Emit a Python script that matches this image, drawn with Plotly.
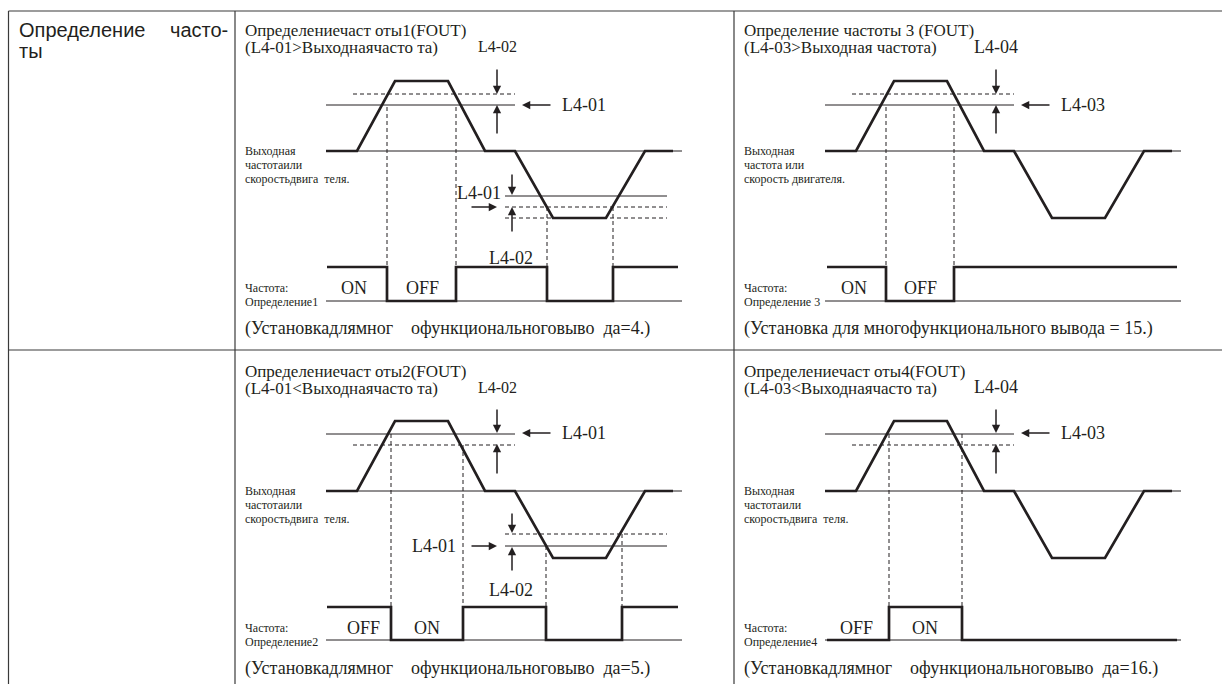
import plotly.graph_objects as go

W, H = 1222, 684
INK = "#231f20"
SERIF = "Liberation Serif, Times New Roman, serif"
SANS = "Liberation Sans, Arial, sans-serif"

# ---------------- data (local panel units) ----------------
# output frequency / motor speed profile (same in all four diagrams)
speed_t = [91, 122, 160, 213, 250, 280, 318, 371, 410, 438]
speed_v = [141, 141, 71, 71, 141, 141, 208, 208, 141, 141]

# frequency detection outputs (high = 257, low = 291)
det1_t = [92, 152, 152, 221, 221, 312, 312, 378, 378, 443]
det1_v = [257, 257, 291, 291, 257, 257, 291, 291, 257, 257]
det2_t = [92, 156, 156, 228, 228, 311, 311, 387, 387, 443]
det2_v = [257, 257, 290, 290, 257, 257, 290, 290, 257, 257]
det3_t = [93, 152, 152, 220, 220, 443]
det3_v = [257, 257, 291, 291, 257, 257]
det4_t = [93, 155, 155, 228, 228, 443]
det4_v = [290, 290, 257, 257, 290, 290]

titles = [
    "Определениечаст оты1(FOUT)",
    "Определениечаст оты2(FOUT)",
    "Определение частоты 3 (FOUT)",
    "Определениечаст оты4(FOUT)",
]
conditions = [
    "(L4-01&gt;Выходнаячасто та)",
    "(L4-01&lt;Выходнаячасто та)",
    "(L4-03&gt;Выходная частота)",
    "(L4-03&lt;Выходнаячасто та)",
]
band_labels = ["L4-02", "L4-02", "L4-04", "L4-04"]
level_labels = ["L4-01", "L4-01", "L4-03", "L4-03"]
speed_labels = [
    ["Выходная", "частотаили", "скоростьдвига\u00a0 теля."],
    ["Выходная", "частотаили", "скоростьдвига\u00a0 теля."],
    ["Выходная", "частота или", "скорость двигателя."],
    ["Выходная", "частотаили", "скоростьдвига\u00a0 теля."],
]
det_labels = ["Определение1", "Определение2", "Определение 3", "Определение4"]
captions = [
    "(Установкадлямног\u00a0\u00a0\u00a0 офункциональноговыво\u00a0 да=4.)",
    "(Установкадлямног\u00a0\u00a0\u00a0 офункциональноговыво\u00a0 да=5.)",
    "(Установка для многофункционального вывода = 15.)",
    "(Установкадлямног\u00a0\u00a0\u00a0 офункциональноговыво\u00a0 да=16.)",
]
state_labels = [("ON", "OFF"), ("OFF", "ON"), ("ON", "OFF"), ("OFF", "ON")]
state_x = [(119, 187), (128, 192), (120, 186), (122, 191)]
det_t = [det1_t, det2_t, det3_t, det4_t]
det_v = [det1_v, det2_v, det3_v, det4_v]
header_text = ["Определение", "часто-", "ты"]

# ---------------- layout of panels ----------------
# panel boxes in pixels: (left, top, width, height)
boxes = [(235, 10, 499, 340), (235, 350, 499, 334), (734, 10, 488, 340), (734, 350, 488, 334)]

fig = go.Figure()
layout = dict(width=W, height=H, margin=dict(l=0, r=0, t=0, b=0),
              paper_bgcolor="white", plot_bgcolor="rgba(0,0,0,0)",
              showlegend=False)
annotations = []
shapes = []

def ax_names(i):
    s = "" if i == 0 else str(i + 1)
    return "x" + s, "y" + s, "xaxis" + s, "yaxis" + s

for i, (l, t, w, h) in enumerate(boxes):
    xr, yr, xk, yk = ax_names(i)
    layout[xk] = dict(domain=[l / W, (l + w) / W], range=[0, w], visible=False,
                      anchor=yr, fixedrange=True)
    layout[yk] = dict(domain=[1 - (t + h) / H, 1 - t / H], range=[h, 0], visible=False,
                      anchor=xr, fixedrange=True)

def line(i, xs, ys, width=1.0, dash=None, color=INK):
    xr, yr, _, _ = ax_names(i)
    fig.add_trace(go.Scatter(x=xs, y=ys, mode="lines", xaxis=xr, yaxis=yr,
                             line=dict(color=color, width=width, dash=dash),
                             hoverinfo="skip"))

def text(i, x, y, s, size=16, anchor="left", font=SERIF):
    xr, yr, _, _ = ax_names(i)
    annotations.append(dict(x=x, y=y, xref=xr, yref=yr, text=s, showarrow=False,
                            xanchor=anchor, yanchor="middle",
                            font=dict(family=font, size=size, color=INK)))

def arrow(i, x0, y0, x1, y1):
    xr, yr, _, _ = ax_names(i)
    annotations.append(dict(x=x1, y=y1, ax=x0, ay=y0, xref=xr, yref=yr, axref=xr, ayref=yr,
                            text="", showarrow=True, arrowhead=2, arrowsize=1.1,
                            arrowwidth=1.5, arrowcolor=INK, standoff=0))

DASH = "4px,3px"
for i in range(4):
    low_level = 291 if i in (0, 2) else 290
    # thin reference lines
    line(i, [91, 447], [141, 141], 1.0)
    line(i, [91, 447], [low_level, low_level], 1.0)
    # thresholds near top
    if i in (0, 2):
        line(i, [118, 280], [84, 84], 1.0, DASH)
        line(i, [91, 280], [95, 95], 1.0)
    else:
        line(i, [91, 280], [84, 84], 1.0)
        line(i, [118, 280], [95, 95], 1.0, DASH)
    # lower thresholds (only diagrams 1 and 2)
    if i == 0:
        line(i, [270, 432], [186, 186], 1.0)
        line(i, [270, 432], [197, 197], 1.0, DASH)
        line(i, [270, 432], [208, 208], 1.0, DASH)
    if i == 1:
        line(i, [270, 432], [184, 184], 1.0, DASH)
        line(i, [270, 432], [196, 196], 1.0)
    # dashed verticals
    if i == 0:
        vs = [(152, 97), (221, 97), (312, 197), (378, 197)]
    elif i == 1:
        vs = [(156, 84), (228, 95), (311, 196), (387, 184)]
    elif i == 2:
        vs = [(152, 97), (220, 97)]
    else:
        vs = [(155, 84), (228, 84)]
    for vx, vy in vs:
        line(i, [vx, vx], [vy, 257], 1.0, DASH)
    # thick signals
    line(i, speed_t, speed_v, 2.7)
    line(i, det_t[i], det_v[i], 2.7)

    # texts
    text(i, 8, 21, titles[i], 17)
    text(i, 8, 38, conditions[i], 17)
    text(i, 262, 37, band_labels[i], 16 if i in (0, 1) else 18, "center")
    text(i, 325, 95 if i in (0, 2) else 83, level_labels[i], 18)
    for k, s in enumerate(speed_labels[i]):
        text(i, 8, 141 + 14 * k, s, 12)
    text(i, 8, 278, "Частота:", 12)
    text(i, 8, 292, det_labels[i], 12)
    text(i, 8, 318, captions[i], 18)
    text(i, state_x[i][0], 278, state_labels[i][0], 18, "center")
    text(i, state_x[i][1], 278, state_labels[i][1], 18, "center")

    # arrows at the top band
    if i in (0, 2):
        arrow(i, 262, 58, 262, 84)
        arrow(i, 262, 125, 262, 95)
        arrow(i, 317, 95, 287, 95)
    else:
        arrow(i, 262, 58, 262, 83)
        arrow(i, 262, 125, 262, 94)
        arrow(i, 317, 83, 287, 83)

# lower band annotations for diagrams 1 and 2
text(0, 268, 183, "L4-01", 18, "right")
text(0, 276, 248, "L4-02", 18, "center")
arrow(0, 277, 163, 277, 185)
arrow(0, 277, 223, 277, 197)
arrow(0, 235, 197, 262, 197)

text(1, 223, 196, "L4-01", 18, "right")
text(1, 276, 240, "L4-02", 18, "center")
arrow(1, 277, 162, 277, 183)
arrow(1, 277, 222, 277, 197)
arrow(1, 235, 196, 262, 196)

# header cell text
hfont = dict(family=SANS, size=20, color=INK)
annotations.append(dict(x=17 / W, y=1 - 30 / H, xref="paper", yref="paper", text=header_text[0],
                        showarrow=False, xanchor="left", yanchor="middle", font=hfont))
annotations.append(dict(x=230 / W, y=1 - 30 / H, xref="paper", yref="paper", text=header_text[1],
                        showarrow=False, xanchor="right", yanchor="middle", font=hfont))
annotations.append(dict(x=17 / W, y=1 - 51 / H, xref="paper", yref="paper", text=header_text[2],
                        showarrow=False, xanchor="left", yanchor="middle", font=hfont))

# table rules
rule = dict(color="#3a3a3a", width=1.2)
for (x0, y0, x1, y1) in [(8.5, 11, 1222, 11), (8.5, 350, 1222, 350),
                         (8.5, 11, 8.5, 684), (235, 11, 235, 684), (734, 11, 734, 684)]:
    shapes.append(dict(type="line", xref="paper", yref="paper",
                       x0=x0 / W, x1=x1 / W, y0=1 - y0 / H, y1=1 - y1 / H, line=rule))

layout["annotations"] = annotations
layout["shapes"] = shapes
fig.update_layout(**layout)
fig.write_html("out.html", config={"displayModeBar": False},
               post_script="document.body.style.margin='0';document.body.style.overflow='hidden';")
